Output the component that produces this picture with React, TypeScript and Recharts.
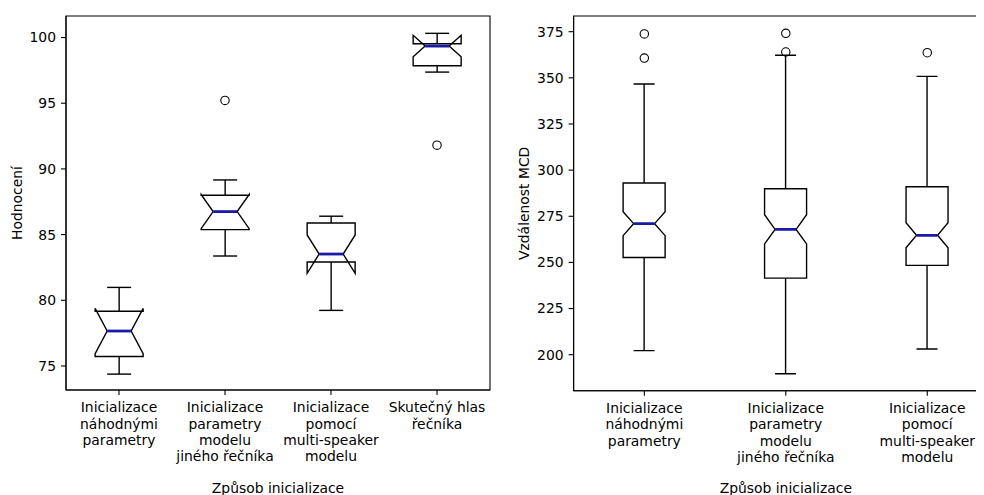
import React from 'react';
import { ComposedChart, Bar, Scatter, XAxis, YAxis, ReferenceArea } from 'recharts';

// ---------- Data ----------
const leftCategories = [
  'Inicializace\nnáhodnými\nparametry',
  'Inicializace\nparametry\nmodelu\njiného řečníka',
  'Inicializace\npomocí\nmulti-speaker\nmodelu',
  'Skutečný hlas\nřečníka',
];
const leftWhiskerLow = [74.38, 83.37, 79.23, 97.37];
const leftQ1 = [75.72, 85.38, 82.91, 97.85];
const leftNotchLow = [75.94, 85.45, 82.05, 98.54];
const leftMedian = [77.66, 86.75, 83.52, 99.35];
const leftNotchHigh = [79.38, 88.05, 84.97, 100.17];
const leftQ3 = [79.16, 88.0, 85.88, 99.53];
const leftWhiskerHigh = [80.98, 89.16, 86.4, 100.32];
const leftOutliers1: (number | null)[] = [null, 95.21, null, 91.81];
const leftOutliers2: (number | null)[] = [null, null, null, null];
const leftTicks = [75, 80, 85, 90, 95, 100];
const leftDomain: [number, number] = [73.17, 101.64];

const rightCategories = [
  'Inicializace\nnáhodnými\nparametry',
  'Inicializace\nparametry\nmodelu\njiného řečníka',
  'Inicializace\npomocí\nmulti-speaker\nmodelu',
];
const rightWhiskerLow = [202.2, 189.7, 203.1];
const rightQ1 = [252.7, 241.5, 248.4];
const rightNotchLow = [264.5, 260.0, 257.9];
const rightMedian = [271.0, 267.9, 264.7];
const rightNotchHigh = [277.5, 275.85, 271.5];
const rightQ3 = [293.0, 289.9, 291.0];
const rightWhiskerHigh = [346.7, 362.2, 350.8];
const rightOutliers1: (number | null)[] = [373.8, 374.1, 363.6];
const rightOutliers2: (number | null)[] = [360.7, 364.0, null];
const rightTicks = [200, 225, 250, 275, 300, 325, 350, 375];
const rightDomain: [number, number] = [180.5, 383.5];

const xTitle = 'Způsob inicializace';
const leftYTitle = 'Hodnocení';
const rightYTitle = 'Vzdálenost MCD';

// ---------- Styling ----------
const FONT = '"DejaVu Sans", sans-serif';
const FS = 13.9;
const MEDIAN_COLOR = '#1a1aa8';

function buildRows(
  cats: string[], wl: number[], q1: number[], nlo: number[], med: number[],
  nhi: number[], q3: number[], wh: number[], o1: (number | null)[], o2: (number | null)[]
) {
  return cats.map((name, i) => ({
    name,
    range: [wl[i], wh[i]],
    q1: q1[i], nlo: nlo[i], med: med[i], nhi: nhi[i], q3: q3[i],
    o1: o1[i], o2: o2[i],
  }));
}

const leftRows = buildRows(leftCategories, leftWhiskerLow, leftQ1, leftNotchLow, leftMedian,
  leftNotchHigh, leftQ3, leftWhiskerHigh, leftOutliers1, leftOutliers2);
const rightRows = buildRows(rightCategories, rightWhiskerLow, rightQ1, rightNotchLow, rightMedian,
  rightNotchHigh, rightQ3, rightWhiskerHigh, rightOutliers1, rightOutliers2);

// Notched box drawn from the bar's own range mapping (whisker low..high)
const BoxShape = (props: any) => {
  const { x, y, width, height, payload } = props;
  if (!payload || x == null || y == null) return <g />;
  const [lo, hi] = payload.range;
  const top = Math.min(y, y + height);
  const h = Math.abs(height);
  const px = (v: number) => top + ((hi - v) / (hi - lo)) * h;
  const L = x;
  const R = x + width;
  const c = x + width / 2;
  const nl = c - width / 4;
  const nr = c + width / 4;
  const pts = [
    [L, px(payload.q1)], [R, px(payload.q1)], [R, px(payload.nlo)], [nr, px(payload.med)],
    [R, px(payload.nhi)], [R, px(payload.q3)], [L, px(payload.q3)], [L, px(payload.nhi)],
    [nl, px(payload.med)], [L, px(payload.nlo)],
  ];
  const d = 'M' + pts.map((p) => `${p[0]},${p[1]}`).join('L') + 'Z';
  const sw = 1.4;
  return (
    <g>
      <line x1={c} x2={c} y1={px(payload.q1)} y2={px(lo)} stroke="#000" strokeWidth={sw} />
      <line x1={c} x2={c} y1={px(payload.q3)} y2={px(hi)} stroke="#000" strokeWidth={sw} />
      <line x1={nl} x2={nr} y1={px(lo)} y2={px(lo)} stroke="#000" strokeWidth={sw} />
      <line x1={nl} x2={nr} y1={px(hi)} y2={px(hi)} stroke="#000" strokeWidth={sw} />
      <path d={d} fill="none" stroke="#000" strokeWidth={sw} strokeLinejoin="miter" />
      <line x1={nl} x2={nr} y1={px(payload.med)} y2={px(payload.med)} stroke={MEDIAN_COLOR} strokeWidth={2.8} />
    </g>
  );
};

const makeFlier = (key: string) => (props: any) => {
  const { cx, cy, payload } = props;
  if (!payload || payload[key] == null || cx == null || cy == null || isNaN(cy)) return <g />;
  return <circle cx={cx} cy={cy} r={4.2} fill="none" stroke="#000" strokeWidth={1.1} />;
};

const CategoryTick = (props: any) => {
  const { x, y, payload } = props;
  const lines = String(payload.value).split('\n');
  return (
    <text x={x} y={y + 15.3} textAnchor="middle" fontFamily={FONT} fontSize={FS} fill="#000">
      {lines.map((ln, i) => (
        <tspan key={i} x={x} dy={i === 0 ? 0 : 16.3}>{ln}</tspan>
      ))}
    </text>
  );
};

const makeYTitle = (text: string) => (props: any) => {
  const vb = props.viewBox || {};
  const cx = vb.x + vb.width - 49.3;
  const cy = vb.y + vb.height / 2;
  return (
    <text x={cx} y={cy} dy="0.36em" textAnchor="middle" transform={`rotate(-90 ${cx} ${cy})`}
      fontFamily={FONT} fontSize={FS} fill="#000">{text}</text>
  );
};

const makeXTitle = (text: string) => (props: any) => {
  const vb = props.viewBox || {};
  const cx = vb.x + vb.width / 2;
  const by = vb.y + vb.height - 2;
  return (
    <text x={cx} y={by} textAnchor="middle" fontFamily={FONT} fontSize={FS} fill="#000">{text}</text>
  );
};

type PanelProps = {
  rows: any[];
  domain: [number, number];
  ticks: number[];
  yTitle: string;
  width: number;
  margin: { top: number; right: number; bottom: number; left: number };
  xHeight: number;
  gap: string;
};

const Panel = ({ rows, domain, ticks, yTitle, width, margin, xHeight, gap }: PanelProps) => (
  <ComposedChart width={width} height={495} data={rows} margin={margin} barCategoryGap={gap}>
    <XAxis
      dataKey="name"
      type="category"
      interval={0}
      tickSize={5}
      tickMargin={2}
      height={xHeight}
      axisLine={{ stroke: '#000', strokeWidth: 1.1 }}
      tickLine={{ stroke: '#000', strokeWidth: 1.1 }}
      tick={<CategoryTick />}
      label={{ content: makeXTitle(xTitle) }}
    />
    <YAxis
      type="number"
      domain={domain}
      allowDataOverflow
      ticks={ticks}
      width={50}
      tickSize={5}
      tickMargin={5}
      axisLine={{ stroke: '#000', strokeWidth: 1.1 }}
      tickLine={{ stroke: '#000', strokeWidth: 1.1 }}
      tick={{ fill: '#000', fontSize: FS, fontFamily: FONT }}
      label={{ content: makeYTitle(yTitle) }}
    />
    <ReferenceArea y1={domain[0]} y2={domain[1]} fill="none" fillOpacity={0} stroke="#000"
      strokeWidth={1.1} ifOverflow="visible" />
    <Bar dataKey="range" shape={<BoxShape />} isAnimationActive={false} fill="none" />
    <Scatter dataKey="o1" shape={makeFlier('o1')} isAnimationActive={false} />
    <Scatter dataKey="o2" shape={makeFlier('o2')} isAnimationActive={false} />
  </ComposedChart>
);

export default function App() {
  return (
    <div style={{ position: 'relative', width: 984, height: 495, overflow: 'hidden', margin: '-8px 0 0 -8px', background: '#fff' }}>
      <div style={{ position: 'absolute', left: 0, top: 0 }}>
        <Panel
          rows={leftRows}
          domain={leftDomain}
          ticks={leftTicks}
          yTitle={leftYTitle}
          width={500}
          margin={{ top: 16, right: 10, bottom: 0, left: 16 }}
          xHeight={105}
          gap="27.5%"
        />
      </div>
      <div style={{ position: 'absolute', left: 500, top: 0 }}>
        <Panel
          rows={rightRows}
          domain={rightDomain}
          ticks={rightTicks}
          yTitle={rightYTitle}
          width={520}
          margin={{ top: 16, right: 22, bottom: 0, left: 23.6 }}
          xHeight={104.3}
          gap="35%"
        />
      </div>
    </div>
  );
}
